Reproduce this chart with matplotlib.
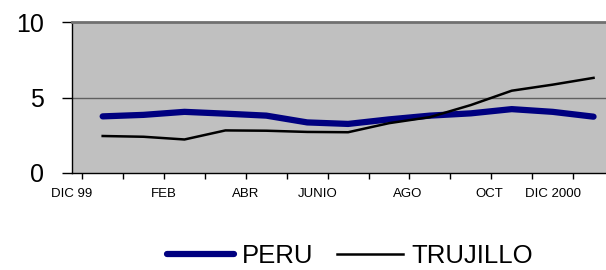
import matplotlib.pyplot as plt
import numpy as np

# monthly values, DIC 99 .. DIC 2000
months = ['DIC 99', 'ENE', 'FEB', 'MAR', 'ABR', 'MAY', 'JUNIO', 'JUL',
          'AGO', 'SET', 'OCT', 'NOV', 'DIC 2000']
peru = [3.75, 3.85, 4.05, 3.93, 3.8, 3.35, 3.25, 3.55, 3.8, 3.95, 4.23, 4.05, 3.73]
trujillo = [2.45, 2.4, 2.22, 2.82, 2.8, 2.72, 2.7, 3.3, 3.7, 4.5, 5.45, 5.85, 6.3]

# labels shown on the x axis
shown_labels = ['DIC 99', 'FEB', 'ABR', 'JUNIO', 'AGO', 'OCT', 'DIC 2000']
label_pos = [-0.75, 1.5, 3.5, 5.25, 7.45, 9.45, 11.0]

plt.rcParams['font.family'] = ['Liberation Sans', 'DejaVu Sans']

fig = plt.figure(figsize=(6.06, 2.70), dpi=100)
ax = fig.add_axes([72 / 606, 97 / 270, 542 / 606, 151 / 270])
ax.set_facecolor('#c0c0c0')

x = np.arange(len(months))
ax.plot(x, peru, color='#000080', lw=4.5, solid_capstyle='round',
        solid_joinstyle='round', label='PERU', zorder=3)
ax.plot(x, trujillo, color='black', lw=1.8, solid_joinstyle='round',
        label='TRUJILLO', zorder=4)

ax.set_xlim(-0.5, len(months) - 0.5)
ax.set_ylim(0, 10)
ax.set_yticks([0, 5, 10])
ax.tick_params(axis='y', length=7, width=1, labelsize=18, pad=13)
ax.axhline(5, color='#606060', lw=1, zorder=2)

# category boundary ticks, labels placed separately
ax.xaxis.remove_overlapping_locs = False
ax.set_xticks(np.arange(-0.5, len(months), 1.0))
ax.set_xticklabels([])
ax.tick_params(axis='x', length=4, width=1)
ax.set_xticks(label_pos, minor=True)
ax.set_xticklabels(shown_labels, minor=True)
ax.tick_params(axis='x', which='minor', length=0, labelsize=9.5, pad=11)

for s in ['left', 'bottom']:
    ax.spines[s].set_color('black')
    ax.spines[s].set_linewidth(1)
ax.spines['top'].set_color('#707070')
ax.spines['top'].set_linewidth(2)
ax.spines['right'].set_visible(False)

fig.legend(loc='center', bbox_to_anchor=(350 / 606, 1 - 256 / 270),
           ncol=2, frameon=False, fontsize=18.5, handlelength=2.6,
           handletextpad=0.3, columnspacing=0.9)

plt.savefig('out.png', dpi=100)
